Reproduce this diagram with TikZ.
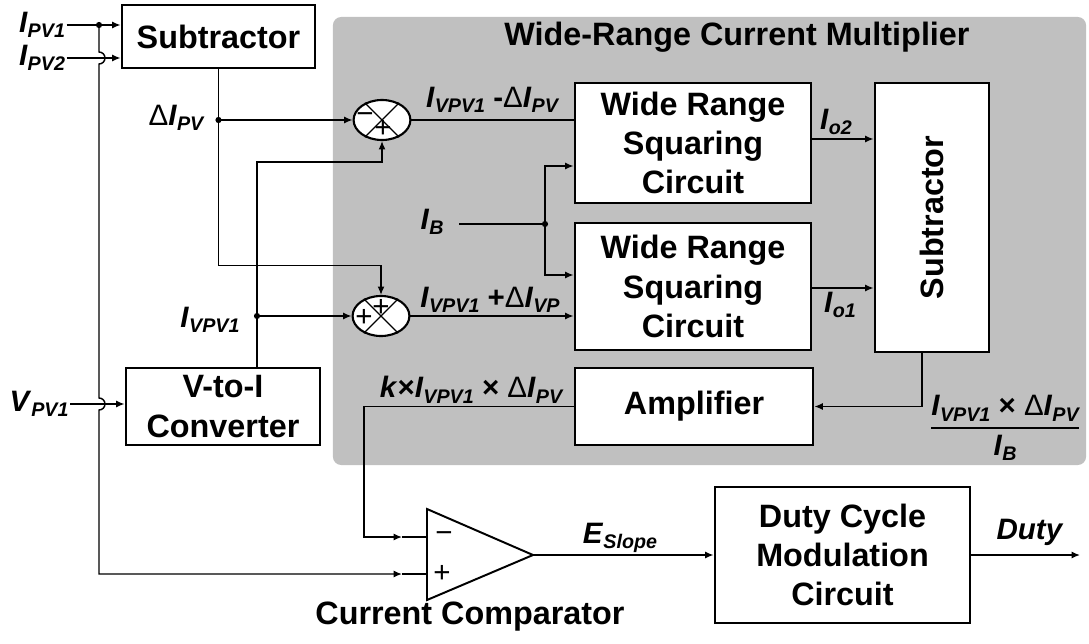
\documentclass[tikz,border=0pt]{standalone}
\usepackage{fontspec}
\setmainfont{Liberation Sans}
\usepackage{amsmath}
\usetikzlibrary{arrows.meta,shapes.geometric,calc}
\definecolor{wrgray}{HTML}{C0C0C0}
\newcommand{\wrI}[2]{\textit{#1}\raisebox{-0.35ex}{\fontsize{14}{14}\selectfont\itshape #2}}
\newcommand{\wrD}{{\mdseries\upshape Δ}}
\tikzstyle{wrbox}=[draw=black,fill=white,line width=2pt,align=center,
  font=\fontsize{23}{28}\selectfont\bfseries,inner sep=2pt]
\tikzstyle{wrwire}=[draw=black,line width=1pt]
\tikzstyle{wrarrow}=[-{Latex[length=6pt,width=5pt]},draw=black,line width=1pt]
\tikzstyle{wrlabel}=[font=\fontsize{21}{24}\selectfont\bfseries,inner sep=1pt]
\tikzstyle{wrsum}=[ellipse,draw=black,fill=white,line width=1.5pt,
  minimum width=1.42cm,minimum height=1cm,inner sep=0pt]
\tikzstyle{wrsign}=[font=\fontsize{21}{21}\selectfont,inner sep=0pt]

\begin{document}
\begin{tikzpicture}[x=0.025cm,y=-0.025cm]
    \useasboundingbox (0,0) rectangle (1089,643);
    % ---- multiplier background ----
    \node[fill=wrgray,rounded corners=6pt,minimum width=18.825cm,minimum height=11.2cm,inner sep=0pt] (grp) at (709.5,241) {};
    \node[font=\fontsize{23}{28}\selectfont\bfseries] (title) at (737,37) {Wide-Range Current Multiplier};

    % ---- input stage ----
    \node[wrbox,minimum width=4.825cm,minimum height=1.575cm] (sub1) at (218.5,36.5) {Subtractor};
    \node[wrbox,minimum width=4.85cm,minimum height=1.925cm] (vti) at (223,406.5) {V-to-I\\Converter};
    \node[wrlabel] (pv1) at (42,25) {\wrI{I}{PV1}};
    \node[wrlabel] (pv2) at (42,58) {\wrI{I}{PV2}};
    \node[wrlabel] (vpv) at (39,404) {\wrI{V}{PV1}};
    \node[wrlabel] (dpv) at (176,118) {\wrD\wrI{I}{PV}};
    \node[wrlabel] (ivpv) at (210,320) {\wrI{I}{VPV1}};
    \draw[wrarrow] (pv1.east) -- (pv1 -| sub1.west);
    \draw[wrarrow] (pv2.east) -- (pv2 -| sub1.west);
    \draw[wrarrow] (vpv.east) -- (vpv -| vti.west);

    % ---- summing nodes ----
    \node[wrsum] (sumA) at (382,120) {};
    \node[wrsum] (sumB) at (381,316) {};
    \foreach \s in {sumA,sumB} {
      \draw[line width=0.8pt] (\s.135) -- (\s.-45);
      \draw[line width=0.8pt] (\s.45) -- (\s.-135);
    }
    \node[wrsign] at ($(sumA)+(-17,-2)$) {−};
    \node[wrsign] at ($(sumA)+(1,9)$) {+};
    \node[wrsign] at ($(sumB)+(0,-8)$) {+};
    \node[wrsign] at ($(sumB)+(-17,2)$) {+};

    \coordinate (dI) at (sub1.south |- sumA.west);
    \draw[wrarrow] (sub1.south) -- ++(0,196) -| (sumB.north);
    \draw[wrarrow] (dI) -- (sumA.west);
    \fill (dI) circle (2.2pt);
    \coordinate (vout) at ($(vti.north)+(34,0)$);
    \coordinate (vturn) at (257,162);
    \coordinate (vdot) at (vout |- sumB.west);
    \draw[wrarrow] (vout) -- (vturn) -| (sumA.south);
    \draw[wrarrow] (vdot) -- (sumB.west);
    \fill (vdot) circle (2.2pt);

    % ---- squaring circuits ----
    \node[wrbox,minimum width=5.9cm,minimum height=3cm] (sq1) at (693,143) {Wide Range\\Squaring\\Circuit};
    \node[wrbox,minimum width=5.9cm,minimum height=3.175cm] (sq2) at (693,286.5) {Wide Range\\Squaring\\Circuit};
    \node[wrlabel] (lblA) at (492,100) {\wrI{I}{VPV1} -\wrD\wrI{I}{PV}};
    \node[wrlabel] (lblB) at (490,300) {\wrI{I}{VPV1} +\wrD\wrI{I}{VP}};
    \draw[wrwire] (sumA.east) -- (sumA -| sq1.west);
    \draw[wrarrow] (sumB.east) -- (sumB -| sq2.west);
    \node[wrlabel] (ib) at (432,222) {\wrI{I}{B}};
    \coordinate (ibdot) at (545,224);
    \draw[wrwire] ($(ib.east)+(14,2)$) -- (ibdot);
    \draw[wrarrow] (ibdot) |- ($(sq1.west)+(0,23)$);
    \draw[wrarrow] (ibdot) |- ($(sq2.west)+(0,-11.5)$);
    \fill (ibdot) circle (2.2pt);

    % ---- subtractor and amplifier ----
    \node[wrbox,minimum width=2.85cm,minimum height=6.725cm] (sub2) at (932,217.5) {};
    \node[font=\fontsize{23}{28}\selectfont\bfseries,rotate=90] (sub2t) at (sub2) {Subtractor};
    \node[wrbox,minimum width=5.95cm,minimum height=1.925cm] (amp) at (694,406.5) {Amplifier};
    \node[wrlabel] (io2) at (836,122) {\wrI{I}{o2}};
    \node[wrlabel] (io1) at (840,305) {\wrI{I}{o1}};
    \coordinate (o2) at ($(sq1.east)+(0,-4)$);
    \coordinate (o1) at ($(sq2.east)+(0,1.5)$);
    \draw[wrarrow] (o2) -- (o2 -| sub2.west);
    \draw[wrarrow] (o1) -- (o1 -| sub2.west);
    \draw[wrarrow] ($(sub2.south)+(-10,0)$) |- (amp.east);
    \node[wrlabel] (frac) at (1005,428) {$\genfrac{}{}{1.4pt}{0}{\hbox{\wrI{I}{VPV1} × \wrD\wrI{I}{PV}}}{\hbox{\wrI{I}{B}}}$};
    \node[wrlabel] (klbl) at (471,390) {\textit{k}×\wrI{I}{VPV1} × \wrD\wrI{I}{PV}};

    % ---- comparator ----
    \coordinate (cmpt) at (427,509);
    \coordinate (cmpb) at (427,600);
    \coordinate (cmpo) at (533,555);
    \coordinate (cmpm) at (427,537);
    \coordinate (cmpp) at (427,574);
    \draw[line width=1.4pt,fill=white] (cmpt) -- (cmpo) -- (cmpb) -- cycle;
    \node[wrsign] at (444,537) {−};
    \node[wrsign] at (442,574) {+};
    \node[font=\fontsize{23}{28}\selectfont\bfseries] (cmplbl) at (470,617) {Current Comparator};
    \draw[wrarrow] (amp.west) -| ($(cmpm)+(-63,0)$) -- ($(cmpm)+(-25,0)$);
    \draw[wrwire] ($(cmpm)+(-25,0)$) -- (cmpm);
    \coordinate (tapP) at (99,25);
    \fill (tapP) circle (2.2pt);
    \draw[wrarrow] (tapP) -- ($(tapP |- pv2)+(0,-6)$) arc[start angle=90,end angle=-90,radius=0.15cm]
      -- ($(tapP |- vpv)+(0,-6)$) arc[start angle=90,end angle=-90,radius=0.15cm]
      -- (tapP |- cmpp) -- ($(cmpp)+(-25,0)$);
    \draw[wrwire] ($(cmpp)+(-25,0)$) -- (cmpp);

    % ---- output ----
    \node[wrbox,minimum width=6.375cm,minimum height=3.4cm] (duty) at (842.5,555) {Duty Cycle\\Modulation\\Circuit};
    \node[wrlabel] (eslope) at (620,538) {\wrI{E}{Slope}};
    \node[wrlabel] (dutylbl) at (1030,532) {\textit{Duty}};
    \coordinate (dutyout) at (1080,555);
    \draw[wrarrow] (cmpo) -- (duty.west);
    \draw[wrarrow] (duty.east) -- (dutyout);
\end{tikzpicture}
\end{document}
